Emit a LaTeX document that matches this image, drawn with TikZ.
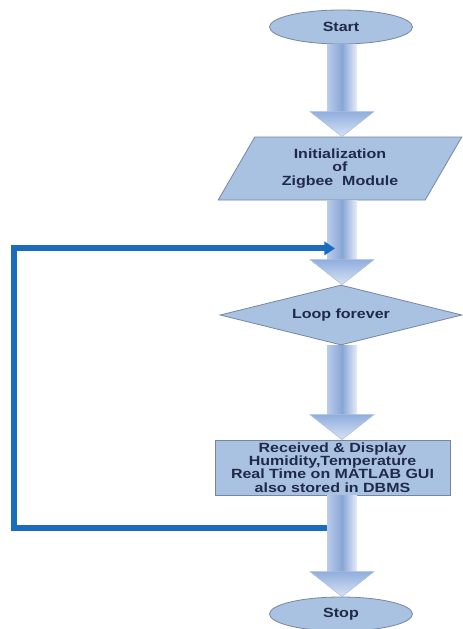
\documentclass[tikz,border=0pt]{standalone}
\usepackage{fontspec}
\setmainfont{Liberation Sans}[FakeStretch=1.2]
\usetikzlibrary{shapes.geometric,calc,arrows.meta}

\definecolor{boxfill}{RGB}{170,194,226}
\definecolor{boxline}{RGB}{118,134,162}
\definecolor{boxtext}{RGB}{32,42,72}
\definecolor{shaftL}{RGB}{186,205,235}
\definecolor{shaftM}{RGB}{136,166,214}
\definecolor{shaftR}{RGB}{230,236,248}
\definecolor{headT}{RGB}{144,174,222}
\definecolor{headB}{RGB}{216,227,244}
\definecolor{headline}{RGB}{170,190,222}
\definecolor{loopblue}{RGB}{28,108,190}

\tikzset{every picture/.style={line width=0.75pt}}
\tikzset{
  flowbox/.style={draw=boxline, fill=boxfill, line width=0.6pt, text=boxtext,
    font=\fontsize{10}{10}\selectfont\bfseries, align=center, inner sep=0.5pt},
  terminal/.style={flowbox, ellipse, minimum width=107.25pt, minimum height=25.5pt},
  shaftshade/.style={left color=shaftL, right color=shaftR, middle color=shaftM},
  headshade/.style={top color=headT, bottom color=headB, draw=headline, line width=0.4pt},
  loopline/.style={draw=loopblue, line width=4.5pt, -{Triangle[length=8pt,width=10pt]}}
}

% block arrow down the column, from one node to the next
\newcommand{\blockarrow}[2]{%
  \shade[shaftshade] ($(#1.south -| axis)+(-15,0)$) rectangle ($(#2.north -| axis)+(15,-24)$);
  \shade[headshade] ($(#2.north -| axis)+(-32,-25)$) -- ($(#2.north -| axis)+(32,-25)$) -- (#2.north -| axis) -- cycle;
}

\begin{document}
\begin{tikzpicture}[x=0.75pt,y=0.75pt,yscale=-1,xscale=1]
\useasboundingbox (0,0) rectangle (462,629);
\coordinate (axis) at (342,0);

%Shape: Ellipse
\node [terminal] (start) at (341,27) {Start};
%Shape: Parallelogram
\node [flowbox, trapezium, trapezium left angle=58, trapezium right angle=122, trapezium stretches=true,
  minimum width=183pt, minimum height=47.25pt] (init) at (340,168.5) {Initialization\\of\\Zigbee\ \ Module};
%Shape: Diamond
\node [flowbox, diamond, aspect=4, minimum width=181.5pt, minimum height=45pt, inner sep=0pt] (loop) at (341,315) {Loop forever};
%Shape: Rectangle
\node [flowbox, rectangle, minimum width=176.25pt, minimum height=41.25pt] (disp) at (332.5,467.5)
  {Received \& Display\\Humidity,Temperature\\Real Time on MATLAB GUI\\also stored in DBMS};
%Shape: Ellipse
\node [terminal] (stop) at (341,614) {Stop};

% Block Arrows
\blockarrow{start}{init}
\blockarrow{init}{loop}
\blockarrow{loop}{disp}
\blockarrow{disp}{stop}

% Loop back
\coordinate (ret) at ($(disp.south -| axis)+(-15,33)$);
\coordinate (join) at ($(init.south -| axis)+(-7,48)$);
\draw [loopline] (ret) -- ++(-313,0) |- (join);

\end{tikzpicture}
\end{document}
